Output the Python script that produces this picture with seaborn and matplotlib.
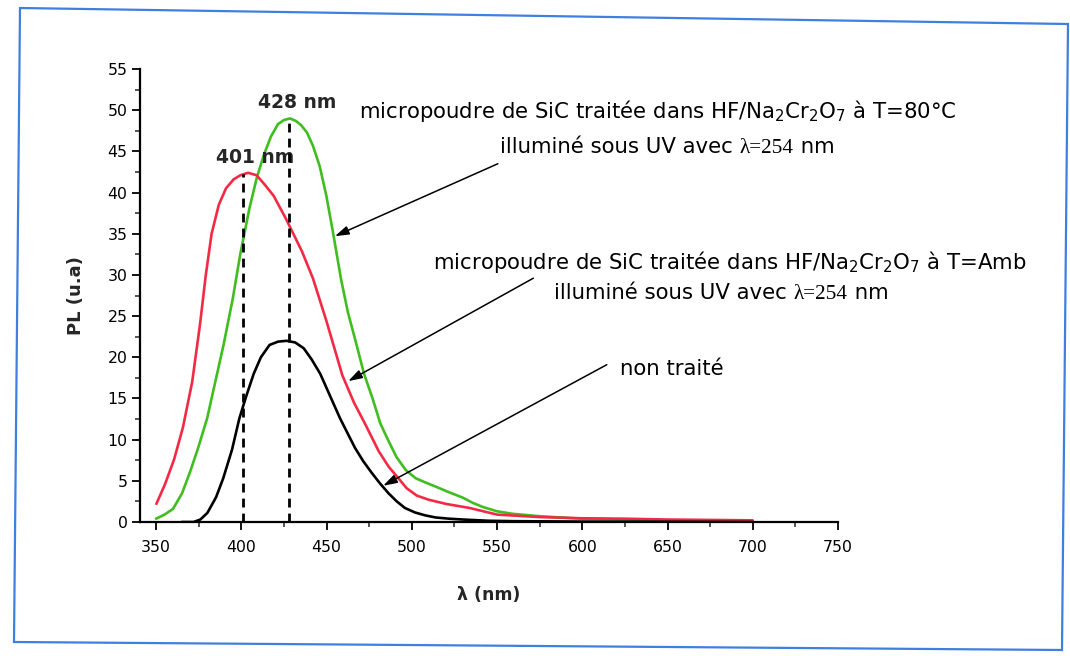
import numpy as np
import pandas as pd
import matplotlib
matplotlib.use("Agg")
import matplotlib.pyplot as plt
import seaborn as sns
from matplotlib.offsetbox import TextArea, HPacker, AnnotationBbox
from matplotlib.patches import Polygon
from matplotlib.ticker import MultipleLocator

# PL spectra of SiC micro-powder (wavelength in nm, PL in arbitrary units)
wl_80c = [350, 355, 360, 365.3, 370, 374.7, 380, 384.2, 389.6, 395, 399.4, 404.8, 409.1,
          413.3, 417.4, 421.5, 425, 428.5, 432, 435, 438.5, 442, 446, 449.9, 453.6, 458.5,
          462.5, 467, 472, 477, 481.5, 486, 491, 496.5, 502.4, 508, 514, 522, 530, 536,
          542, 550, 559, 575, 600, 625, 650, 660]
pl_80c = [0.4, 0.9, 1.6, 3.5, 6.1, 9.0, 12.6, 16.5, 21.5, 27.1, 32.5, 38.1, 41.8,
          44.6, 46.8, 48.3, 48.8, 49.0, 48.7, 48.2, 47.3, 45.7, 43.2, 39.6, 35.4, 29.5,
          25.5, 22.0, 18.0, 15.0, 12.0, 10.0, 7.9, 6.3, 5.3, 4.8, 4.3, 3.6, 2.95, 2.3,
          1.8, 1.3, 1.0, 0.7, 0.4, 0.3, 0.2, 0.15]

wl_amb = [350.2, 355.3, 360.6, 365.8, 371.2, 375.8, 379.2, 382.6, 386.8, 391, 395.5, 399.5,
          404, 409, 414, 419, 426, 435.5, 442, 449.8, 459.3, 466.1, 472.9, 480.6, 486.5,
          491.4, 497, 503, 510, 520, 534, 550, 575, 600, 625, 650, 675, 700]
pl_amb = [2.2, 4.6, 7.6, 11.5, 17.0, 24.0, 30.0, 35.0, 38.5, 40.5, 41.6, 42.1,
          42.4, 42.1, 40.9, 39.6, 36.9, 32.9, 29.6, 24.5, 17.8, 14.5, 11.8, 8.6, 6.7,
          5.5, 4.1, 3.2, 2.7, 2.2, 1.7, 0.9, 0.6, 0.45, 0.4, 0.3, 0.25, 0.2]

wl_raw = [365, 372, 376, 380.1, 385.2, 389.4, 394.6, 398.9, 403.1, 407.3, 411.5, 416.6,
          421.6, 426.6, 431.6, 436.6, 441.4, 446.3, 452.1, 457.9, 461.8, 466.7, 471.5,
          476.4, 481.3, 486.3, 491.2, 496, 502, 508, 514, 522, 530, 545, 560, 600, 700]
pl_raw = [0.0, 0.0, 0.3, 1.1, 3.0, 5.3, 8.8, 12.6, 15.4, 18.0, 20.0, 21.5,
          21.9, 22.0, 21.8, 21.1, 19.7, 18.0, 15.3, 12.6, 11.0, 9.0, 7.4,
          6.0, 4.7, 3.5, 2.5, 1.7, 1.15, 0.8, 0.55, 0.4, 0.3, 0.15, 0.1, 0.05, 0.0]

peak_amb = 401
peak_80c = 428

x_ticks = [350, 400, 450, 500, 550, 600, 650, 700, 750]
y_ticks = [0, 5, 10, 15, 20, 25, 30, 35, 40, 45, 50, 55]

sns.set_theme(style="ticks")
plt.rcParams["font.family"] = ["DejaVu Sans"]
plt.rcParams["mathtext.fontset"] = "dejavusans"

W, H = 1070, 656
fig = plt.figure(figsize=(W / 100, H / 100), dpi=100)
fig.patch.set_facecolor("white")
ax = fig.add_axes([140 / W, 1 - 522 / H, (838 - 140) / W, (522 - 69) / H])

series = [
    (wl_80c, pl_80c, "#40bd20"),
    (wl_amb, pl_amb, "#f22a45"),
    (wl_raw, pl_raw, "#000000"),
]
for wl, pl, col in series:
    df = pd.DataFrame({"wl": wl, "pl": pl})
    sns.lineplot(data=df, x="wl", y="pl", color=col, lw=1.9, ax=ax)

# dashed markers at the two emission maxima
for pos, wl, pl in [(peak_amb, wl_amb, pl_amb), (peak_80c, wl_80c, pl_80c)]:
    top = float(np.interp(pos, wl, pl))
    ax.plot([pos, pos], [0, top], color="black", lw=2.0, ls=(0, (3.2, 2.2)), zorder=5)

ax.set_xlim(340.6, 750)
ax.set_ylim(0, 55)
ax.set_xticks(x_ticks)
ax.set_yticks(y_ticks)
ax.xaxis.set_minor_locator(MultipleLocator(25))
ax.yaxis.set_minor_locator(MultipleLocator(2.5))
ax.tick_params(axis="both", which="major", direction="out", length=6, width=1.3,
               labelsize=11.3, colors="black")
ax.tick_params(axis="x", which="major", pad=7)
ax.tick_params(axis="y", which="major", pad=3)
ax.tick_params(axis="both", which="minor", direction="out", length=3.5, width=1.1)
for s in ["top", "right"]:
    ax.spines[s].set_visible(False)
for s in ["left", "bottom"]:
    ax.spines[s].set_linewidth(1.6)
    ax.spines[s].set_color("black")
ax.set_xlabel("λ (nm)", fontsize=12.5, fontweight="bold", labelpad=22)
ax.set_ylabel("PL (u.a)", fontsize=13, fontweight="bold", labelpad=16)
ax.grid(False)

# peak labels
ax.text(432.6, 50.9, "428 nm", fontsize=13.5, fontweight="bold", ha="center",
        va="center", clip_on=False)
ax.text(408.0, 44.3, "401 nm", fontsize=13.5, fontweight="bold", ha="center",
        va="center", clip_on=False, zorder=4)

FS = 15.3


def line_of_text(x, y, parts):
    boxes = []
    for txt, fam in parts:
        boxes.append(TextArea(txt, textprops=dict(fontsize=FS, family=fam, color="black")))
    pack = HPacker(children=boxes, align="baseline", pad=0, sep=0)
    ab = AnnotationBbox(pack, (x, y), xycoords="data", frameon=False,
                        box_alignment=(0.5, 0.5), annotation_clip=False, pad=0)
    ax.add_artist(ab)


sans = "DejaVu Sans"
serif = "Liberation Serif"
line_of_text(644.0, 49.95, [("micropoudre de SiC traitée dans HF/Na$_2$Cr$_2$O$_7$ à T=80°C", sans)])
line_of_text(649.8, 45.5, [("illuminé sous UV avec ", sans), ("λ=254", serif), (" nm", sans)])
line_of_text(686.5, 31.55, [("micropoudre de SiC traitée dans HF/Na$_2$Cr$_2$O$_7$ à T=Amb", sans)])
line_of_text(681.5, 27.8, [("illuminé sous UV avec ", sans), ("λ=254", serif), (" nm", sans)])
line_of_text(652.5, 18.6, [("non traité", sans)])

arrow_style = dict(arrowstyle="-|>,head_length=0.7,head_width=0.22", color="black",
                   lw=1.1, shrinkA=0, shrinkB=0)
for (x0, y0), (x1, y1) in [((550.5, 43.5), (454.9, 34.7)),
                           ((571.3, 29.6), (462.7, 17.1)),
                           ((614.4, 19.1), (483.2, 4.4))]:
    ax.annotate("", xy=(x1, y1), xytext=(x0, y0), xycoords="data",
                textcoords="data", arrowprops=arrow_style, annotation_clip=False)

# page frame
frame_px = [(20, 8), (1068, 24), (1062, 650), (14, 642)]
frame = Polygon([(px / W, 1 - py / H) for px, py in frame_px], closed=True,
                fill=False, edgecolor="#3f7fe0", lw=1.6, transform=fig.transFigure)
fig.add_artist(frame)

fig.savefig("out.png", dpi=100, facecolor="white")
